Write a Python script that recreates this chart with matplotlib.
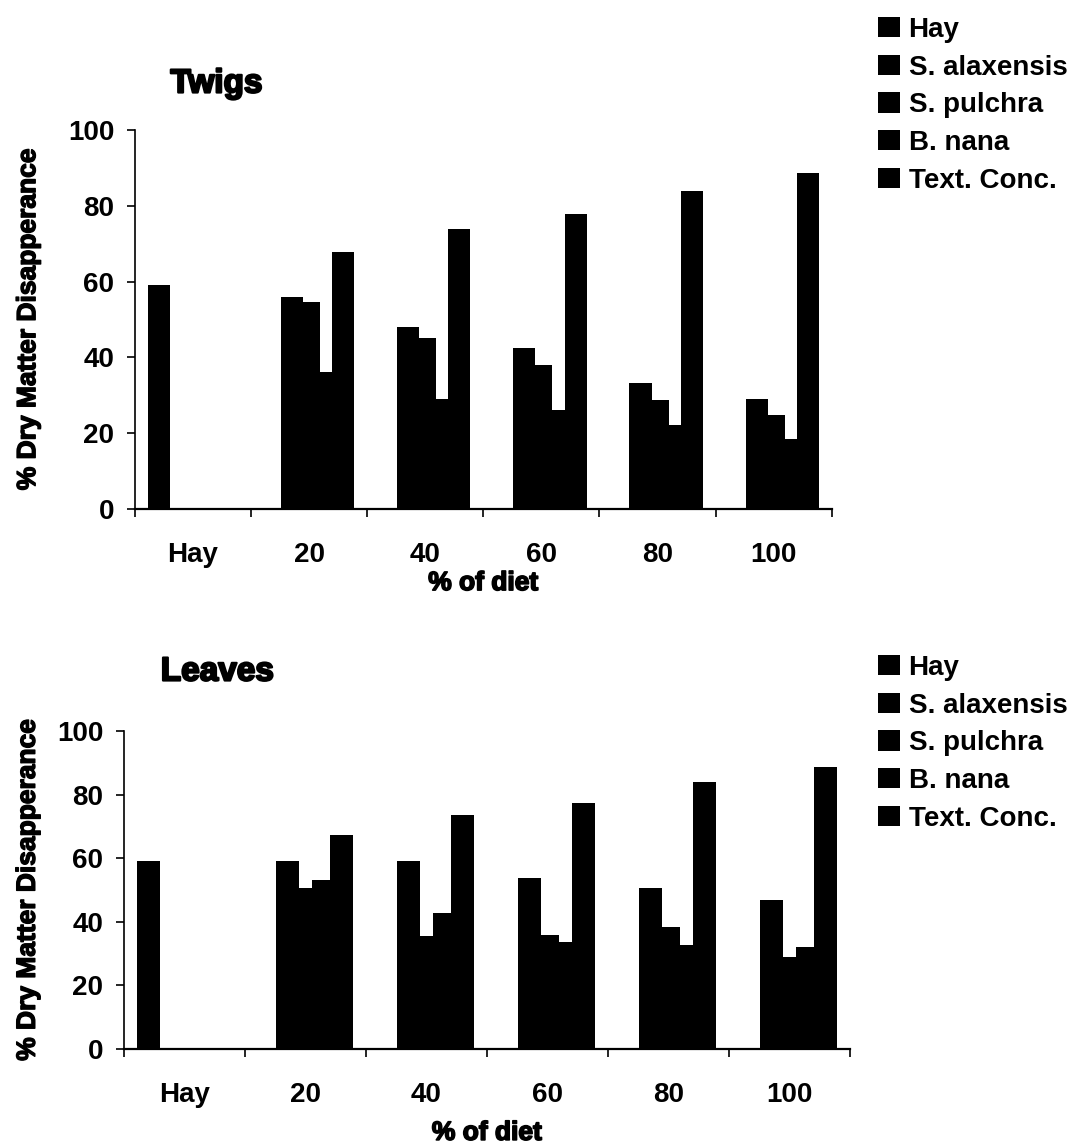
import matplotlib
matplotlib.use('Agg')
import matplotlib.pyplot as plt
import matplotlib.patheffects as pe
import numpy as np

plt.rcParams['font.family'] = ['Liberation Sans', 'DejaVu Sans']
plt.rcParams['font.weight'] = 'bold'

categories = ['Hay', '20', '40', '60', '80', '100']
series = ['Hay', 'S. alaxensis', 'S. pulchra', 'B. nana', 'Text. Conc.']

# twigs
tw_hay = [59.0, 0, 0, 0, 0, 0]
tw_alax = [0, 55.8, 48.0, 42.4, 33.2, 29.0]
tw_pulc = [0, 54.7, 45.1, 37.9, 28.8, 24.9]
tw_nana = [0, 36.1, 29.1, 26.2, 22.2, 18.5]
tw_conc = [0, 67.8, 73.9, 77.8, 84.0, 88.6]

# leaves
lv_hay = [59.2, 0, 0, 0, 0, 0]
lv_alax = [0, 59.2, 59.2, 53.9, 50.7, 46.9]
lv_pulc = [0, 50.8, 35.6, 35.9, 38.3, 29.1]
lv_nana = [0, 53.1, 42.9, 33.8, 32.7, 32.0]
lv_conc = [0, 67.3, 73.7, 77.5, 84.0, 88.7]

fig = plt.figure(figsize=(10.72, 11.43), dpi=100)
ax1 = fig.add_axes([0.1259, 0.5547, 0.650, 0.3316])
ax2 = fig.add_axes([0.1157, 0.0822, 0.6772, 0.2782])

heavy = [pe.withStroke(linewidth=1.2, foreground='black')]

def draw(ax, data, title, title_xy, leg_y, ylab_x, xpad):
    x = np.arange(len(categories))
    step = 0.147
    width = 0.19
    handles = []
    for i, vals in enumerate(data):
        b = ax.bar(x + (i - 2) * step, vals, width, color='black', linewidth=0, label=series[i])
        handles.append(b)
    ax.set_xlim(-0.5, 5.5)
    ax.set_ylim(0, 100)
    ax.set_yticks([0, 20, 40, 60, 80, 100])
    ax.set_xticks(x)
    ax.set_xticklabels(categories)
    ax.set_xticks(np.arange(-0.5, 6, 1), minor=True)
    ax.tick_params(axis='x', which='major', length=0, pad=24, labelsize=20)
    ax.tick_params(axis='x', which='minor', length=6, width=1.2, direction='out')
    ax.tick_params(axis='y', length=6, width=1.2, direction='out', labelsize=20, pad=9)
    for s in ['top', 'right']:
        ax.spines[s].set_visible(False)
    ax.spines['left'].set_linewidth(1.2)
    ax.spines['bottom'].set_linewidth(1.6)
    xl = ax.set_xlabel('% of diet', fontsize=19, fontweight='heavy', labelpad=xpad)
    xl.set_path_effects(heavy)
    yl = ax.set_ylabel('% Dry Matter Disapperance', fontsize=19, fontweight='heavy')
    yl.set_path_effects([pe.withStroke(linewidth=1.0, foreground='black')])
    ax.yaxis.set_label_coords(ylab_x, 0.5)
    t = fig.text(title_xy[0], title_xy[1], title, fontsize=24, fontweight='heavy', ha='left', va='center')
    t.set_path_effects([pe.withStroke(linewidth=1.6, foreground='black')])
    fig.legend(handles=handles, labels=series, loc='upper left', bbox_to_anchor=(0.819, leg_y),
               frameon=False, fontsize=20, handlelength=0.8, handleheight=0.75, handletextpad=0.3,
               labelspacing=0.42, borderaxespad=0, borderpad=0)

draw(ax1, [tw_hay, tw_alax, tw_pulc, tw_nana, tw_conc], 'Twigs', (0.159, 1 - 84 / 1143),
     1 - 17 / 1143, -0.136, 2)
draw(ax2, [lv_hay, lv_alax, lv_pulc, lv_nana, lv_conc], 'Leaves', (0.150, 1 - 672 / 1143),
     1 - 655 / 1143, -0.116, 9)

fig.savefig('out.png', dpi=100)
